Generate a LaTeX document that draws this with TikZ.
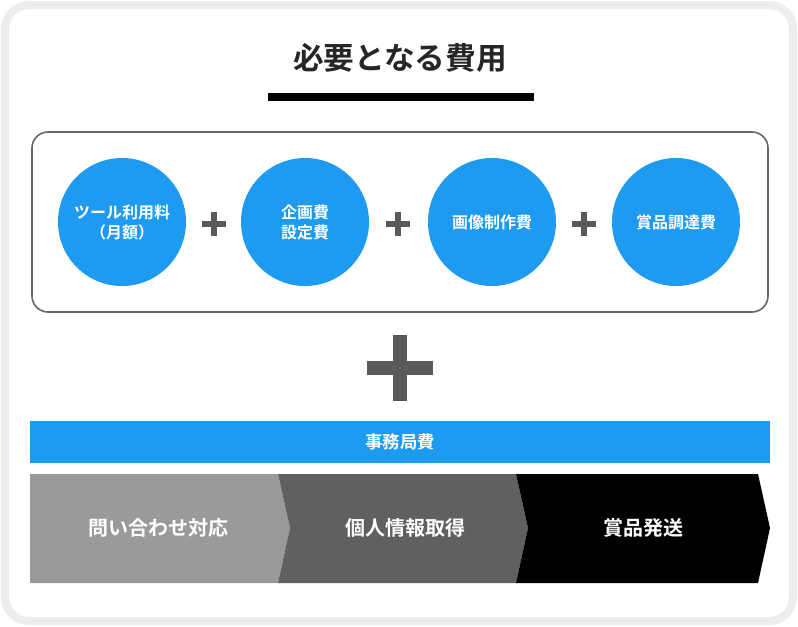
\documentclass[tikz,border=0pt]{standalone}
\usepackage{fontspec}
\setmainfont{Noto Sans CJK JP}[BoldFont={Noto Sans CJK JP Bold}]
\usetikzlibrary{positioning}
\definecolor{costblue}{HTML}{1E9BF0}
\definecolor{plusgray}{HTML}{5A5A5A}
\definecolor{stepA}{HTML}{9A9A9A}
\definecolor{stepB}{HTML}{606060}
\begin{document}
\begin{tikzpicture}[x=0.75pt,y=-0.75pt,
  costcircle/.style={circle, fill=costblue, minimum size=96pt, inner sep=0pt,
    text=white, font=\bfseries\fontsize{12}{15}\selectfont, align=center},
  smallplus/.style={line width=4.5pt, draw=plusgray},
  steplabel/.style={text=white, font=\bfseries\fontsize{15}{18}\selectfont}]
  \useasboundingbox (0,0) rectangle (798,626);
  \fill[white] (0,0) rectangle (798,626);
  \draw[line width=6pt, draw=black!7, rounded corners=18pt] (5,5) rectangle (793,621);
  % title
  \node[font=\bfseries\fontsize{23}{28}\selectfont, text=black!85] (title) at (400,58) {必要となる費用};
  \fill[black] (268,93) rectangle (534,101);
  % box with circles
  \draw[line width=1.2pt, draw=black!60, rounded corners=12pt] (32,132) rectangle (768,312);
  \node[costcircle] (tool) at (122,222) {ツール利用料\\（月額）};
  \node[costcircle] (plan) at (305,222) {企画費\\設定費};
  \node[costcircle] (image) at (492,222) {画像制作費};
  \node[costcircle] (prize) at (676,222) {賞品調達費};
  \foreach \x in {214,398,584}{
    \draw[smallplus] (\x-12,224) -- (\x+12,224);
    \draw[smallplus] (\x,212) -- (\x,236);
  }
  % big plus
  \draw[line width=10.5pt, draw=plusgray] (367,368) -- (433,368);
  \draw[line width=10.5pt, draw=plusgray] (400,335) -- (400,401);
  % office cost
  \fill[costblue] (30,421) rectangle (770,463);
  \node[text=white, font=\bfseries\fontsize{13}{16}\selectfont] (office) at (400,442) {事務局費};
  % steps
  \fill[stepA] (30,474) -- (278,474) -- (290,528) -- (278,583) -- (30,583) -- cycle;
  \fill[stepB] (278,474) -- (516,474) -- (528,528) -- (516,583) -- (278,583) -- (290,528) -- cycle;
  \fill[black] (516,474) -- (758,474) -- (770,528) -- (758,583) -- (516,583) -- (528,528) -- cycle;
  \node[steplabel] (inquiry) at (158,528) {問い合わせ対応};
  \node[steplabel] (privacy) at (405,528) {個人情報取得};
  \node[steplabel] (ship) at (643,528) {賞品発送};
\end{tikzpicture}
\end{document}
